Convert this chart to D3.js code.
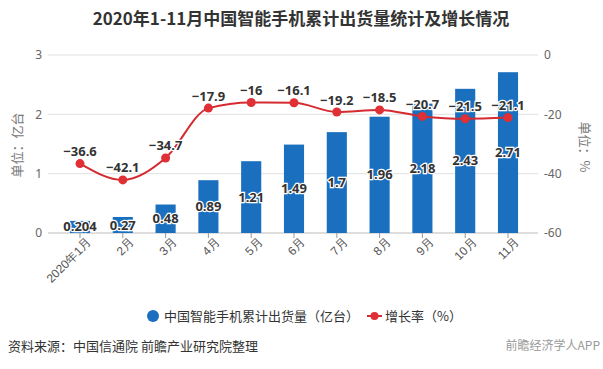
<!DOCTYPE html>
<html><head><meta charset="utf-8">
<script src="https://cdn.jsdelivr.net/npm/d3@7"></script>
<style>
body{margin:0;background:#fff;}
svg{display:block;font-family:"Noto Sans CJK SC","Noto Sans",sans-serif;}
</style></head>
<body>
<svg id="c" width="603" height="369"></svg>
<script>
const categories = ["2020年1月","2月","3月","4月","5月","6月","7月","8月","9月","10月","11月"];
const shipments = [0.204,0.27,0.48,0.89,1.21,1.49,1.7,1.96,2.18,2.43,2.71];
const growth = [-36.6,-42.1,-34.7,-17.9,-16,-16.1,-19.2,-18.5,-20.7,-21.5,-21.1];
const leftTicks = [0,1,2,3];
const rightTicks = [0,-20,-40,-60];
const titleText = "2020年1-11月中国智能手机累计出货量统计及增长情况";
const seriesNames = ["中国智能手机累计出货量（亿台）","增长率（%）"];
const sourceText = "资料来源：中国信通院 前瞻产业研究院整理";
const brandText = "前瞻经济学人APP";

const svg = d3.select("#c");
const plotL = 48, plotR = 538, plotT = 55, plotB = 233;
const barColor = "#1a6fbf", lineColor = "#d42a30";

const x = d3.scaleBand().domain(categories).range([58.6, 529.4]).paddingInner(0.53).paddingOuter(0.265);
const yL = d3.scaleLinear().domain([0,3]).range([plotB, plotT]);
const yR = d3.scaleLinear().domain([-60,0]).range([plotB, plotT]);

// title
svg.append("text").attr("x",301).attr("y",25).attr("text-anchor","middle")
  .attr("font-size",17).attr("font-weight","bold").attr("fill","#333").text(titleText);

// gridlines
svg.append("g").selectAll("line").data(leftTicks).join("line")
  .attr("x1",plotL).attr("x2",plotR).attr("y1",d=>yL(d)).attr("y2",d=>yL(d))
  .attr("stroke",d=>d===0?"#bbb":"#e0e0e0").attr("stroke-width",1);

// left axis labels
const gl = svg.append("g").attr("transform",`translate(${plotL},0)`)
  .call(d3.axisLeft(yL).tickValues(leftTicks).tickSize(0).tickPadding(6).tickFormat(d3.format("d")));
gl.select(".domain").remove();
gl.selectAll("text").attr("font-size",12).attr("fill","#666").style("font-family","'Noto Sans','DejaVu Sans',sans-serif");

// right axis labels
const gr = svg.append("g").attr("transform",`translate(${plotR},0)`)
  .call(d3.axisRight(yR).tickValues(rightTicks).tickSize(0).tickPadding(6).tickFormat(d=>String(d).replace("−","-")));
gr.select(".domain").remove();
gr.selectAll("text").attr("font-size",12).attr("fill","#666").style("font-family","'Noto Sans','DejaVu Sans',sans-serif");

// x axis
const gx = svg.append("g").attr("transform",`translate(0,${plotB})`)
  .call(d3.axisBottom(x).tickSize(5).tickPadding(4));
gx.select(".domain").remove();
gx.selectAll("line").attr("stroke","#999");
gx.selectAll("text").attr("font-size",12).attr("fill","#555")
  .attr("text-anchor","end").attr("dy","0.35em")
  .attr("transform","translate(9,7) rotate(-45)").attr("y",0).attr("x",0);

// axis titles
svg.append("text").attr("transform","translate(22,145) rotate(-90)").attr("text-anchor","middle")
  .attr("font-size",13).attr("fill","#777").text("单位：亿台");
svg.append("text").attr("transform","translate(580,147) rotate(90)").attr("text-anchor","middle")
  .attr("font-size",13).attr("fill","#777").text("单位：%");

// bars
svg.append("g").selectAll("rect").data(shipments).join("rect")
  .attr("x",(d,i)=>x(categories[i])).attr("width",x.bandwidth())
  .attr("y",d=>yL(d)).attr("height",d=>plotB-yL(d)).attr("fill",barColor);

// bar labels
svg.append("g").selectAll("text").data(shipments).join("text")
  .attr("x",(d,i)=>x(categories[i])+x.bandwidth()/2)
  .attr("y",d=>(yL(d)+plotB)/2).attr("dy","0.35em").attr("text-anchor","middle")
  .attr("font-size",13).attr("font-weight","bold").attr("fill","#333")
  .attr("stroke","#fff").attr("stroke-width",2.5).attr("paint-order","stroke")
  .style("font-family","'Noto Sans','DejaVu Sans',sans-serif")
  .text(d=>d);

// line
const line = d3.line().x((d,i)=>x(categories[i])+x.bandwidth()/2).y(d=>yR(d)).curve(d3.curveMonotoneX);
svg.append("path").datum(growth).attr("d",line).attr("fill","none").attr("stroke",lineColor).attr("stroke-width",2);
svg.append("g").selectAll("circle").data(growth).join("circle")
  .attr("cx",(d,i)=>x(categories[i])+x.bandwidth()/2).attr("cy",d=>yR(d)).attr("r",4.5).attr("fill","#e02f35");
svg.append("g").selectAll("text").data(growth).join("text")
  .attr("x",(d,i)=>x(categories[i])+x.bandwidth()/2).attr("y",d=>yR(d)-12).attr("dy","0.35em")
  .attr("text-anchor","middle").attr("font-size",13).attr("font-weight","bold").attr("fill","#333")
  .attr("stroke","#fff").attr("stroke-width",2.5).attr("paint-order","stroke")
  .style("font-family","'Noto Sans','DejaVu Sans',sans-serif")
  .text(d=>"−"+Math.abs(d));

// legend
const lg = svg.append("g");
lg.append("circle").attr("cx",153).attr("cy",316).attr("r",6).attr("fill",barColor);
lg.append("text").attr("x",164).attr("y",316).attr("dy","0.35em").attr("font-size",13).attr("fill","#333").text(seriesNames[0]);
lg.append("line").attr("x1",367).attr("x2",382).attr("y1",316).attr("y2",316).attr("stroke",lineColor).attr("stroke-width",2);
lg.append("circle").attr("cx",374.5).attr("cy",316).attr("r",4).attr("fill","#e02f35");
lg.append("text").attr("x",385).attr("y",316).attr("dy","0.35em").attr("font-size",13).attr("fill","#333").text(seriesNames[1]);

// footer
svg.append("text").attr("x",8).attr("y",346).attr("dy","0.35em").attr("font-size",13).attr("fill","#333").text(sourceText);
svg.append("text").attr("x",600).attr("y",346).attr("dy","0.35em").attr("text-anchor","end").attr("font-size",12).attr("fill","#999").text(brandText);
</script>
</body></html>
